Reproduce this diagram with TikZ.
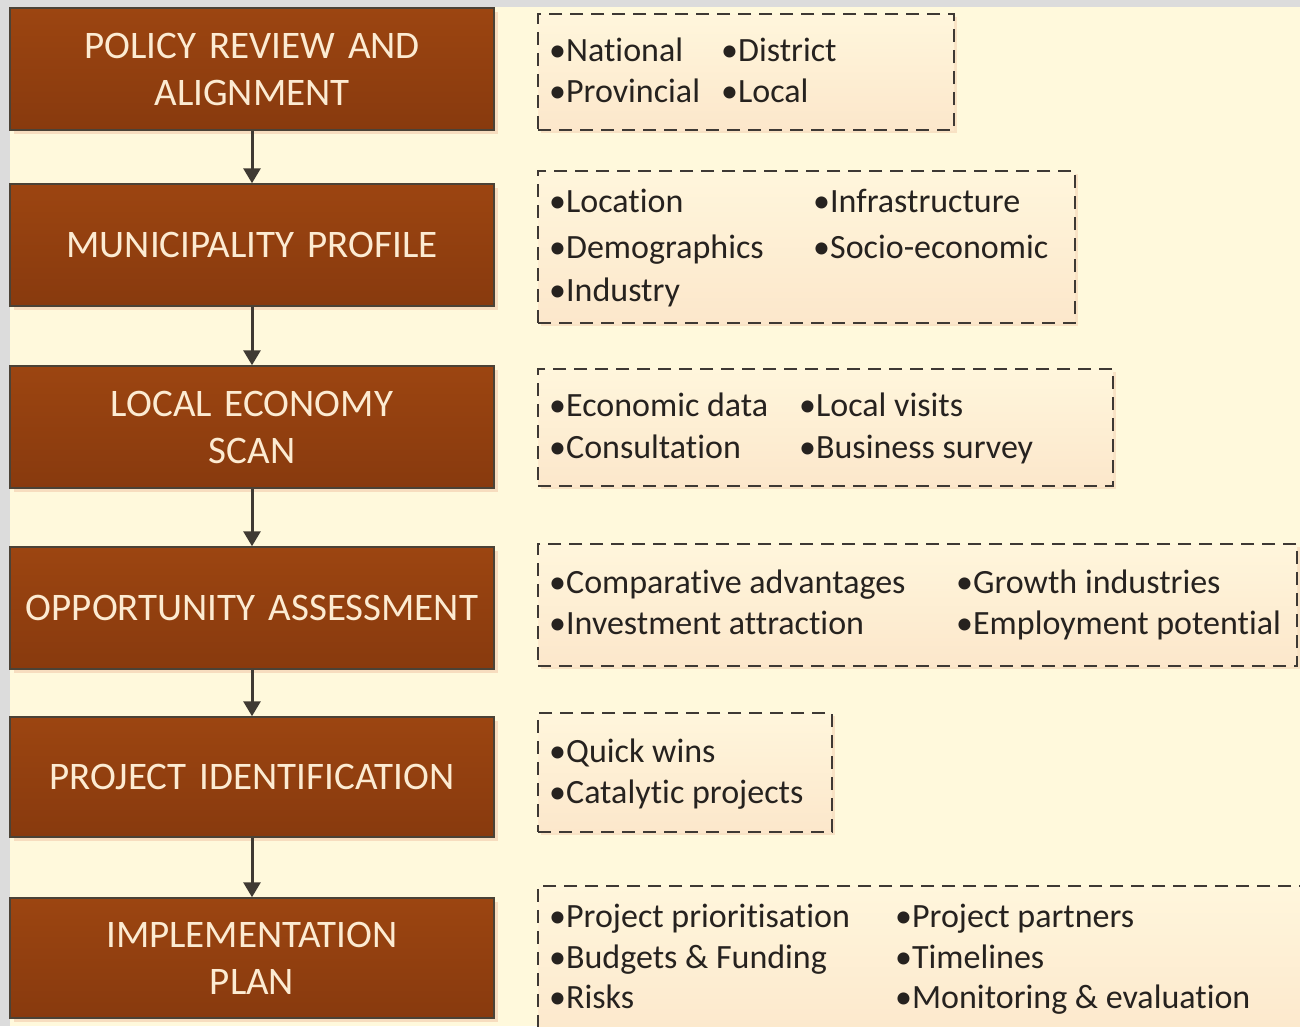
\documentclass[tikz,border=0pt]{standalone}
\usepackage{fontspec}
\setmainfont{Carlito}[Ligatures=NoCommon]
\usetikzlibrary{arrows.meta,shadows}
\definecolor{bgcream}{HTML}{FFF9DC}
\definecolor{edgegray}{HTML}{DCDCDC}
\definecolor{brownTop}{HTML}{9C4511}
\definecolor{brownBot}{HTML}{883A0E}
\definecolor{stagetext}{HTML}{FCEBD2}
\definecolor{stageedge}{HTML}{4B4236}
\definecolor{infoTop}{HTML}{FFF6DC}
\definecolor{infoBot}{HTML}{FCE7CB}
\definecolor{infoedge}{HTML}{3E3934}
\definecolor{shadowpeach}{HTML}{F7DDBF}
\definecolor{bullettext}{HTML}{26221F}
\definecolor{arrowgray}{HTML}{3F3A33}
\tikzset{
  stage/.style={draw=stageedge, line width=1.5pt, top color=brownTop, bottom color=brownBot,
    minimum width=484pt, text width=470pt, align=center, text=stagetext,
    font=\fontsize{39}{47}\selectfont, inner sep=0pt,
    drop shadow={shadow xshift=4pt, shadow yshift=-4pt, fill=shadowpeach, opacity=1}},
  infobox/.style={draw=infoedge, line width=2pt, dash pattern=on 13pt off 8pt,
    top color=infoTop, bottom color=infoBot, inner sep=0pt,
    drop shadow={shadow xshift=3pt, shadow yshift=-3pt, fill=shadowpeach, opacity=0.8}},
  item/.style={anchor=base west, inner sep=0pt, text=bullettext, font=\fontsize{34}{41}\selectfont},
  flow/.style={draw=arrowgray, line width=3pt, -{Triangle[width=17pt,length=15pt]}}
}
\begin{document}
\begin{tikzpicture}[x=1pt,y=-1pt]
\useasboundingbox (0,0) rectangle (1300,1026);
\fill[edgegray] (0,0) rectangle (1300,1026);
\fill[bgcream] (10,7) rectangle (1300,1026);

% info boxes
\node[infobox, minimum width=416pt, minimum height=116pt] (d1) at (746,72) {};
\node[infobox, minimum width=537pt, minimum height=152pt] (d2) at (806.5,247) {};
\node[infobox, minimum width=575pt, minimum height=117pt] (d3) at (825.5,427.5) {};
\node[infobox, minimum width=759pt, minimum height=122pt] (d4) at (917.5,605) {};
\node[infobox, minimum width=294pt, minimum height=119pt] (d5) at (685,772.5) {};
\node[infobox, minimum width=790pt, minimum height=160pt] (d6) at (933,966) {};

% stages
\node[stage, minimum height=122pt] (s1) at (252,69) {POLICY REVIEW AND\\ALIGNMENT};
\node[stage, minimum height=122pt] (s2) at (252,245) {MUNICIPALITY PROFILE};
\node[stage, minimum height=122pt] (s3) at (252,427) {LOCAL ECONOMY\\SCAN};
\node[stage, minimum height=122pt] (s4) at (252,608) {OPPORTUNITY ASSESSMENT};
\node[stage, minimum height=120pt] (s5) at (252,777) {PROJECT IDENTIFICATION};
\node[stage, minimum height=120pt] (s6) at (252,958) {IMPLEMENTATION\\PLAN};

\draw[flow] (s1.south) -- (s2.north);
\draw[flow] (s2.south) -- (s3.north);
\draw[flow] (s3.south) -- (s4.north);
\draw[flow] (s4.south) -- (s5.north);
\draw[flow] (s5.south) -- (s6.north);

% items
\node[item] (a1) at (549,61) {•National};
\node[item] (a2) at (549,102) {•Provincial};
\node[item] (a3) at (721,61) {•District};
\node[item] (a4) at (721,102) {•Local};

\node[item] (b1) at (549,212) {•Location};
\node[item] (b2) at (549,258) {•Demographics};
\node[item] (b3) at (549,301) {•Industry};
\node[item] (b4) at (813,212) {•Infrastructure};
\node[item] (b5) at (813,258) {•Socio-economic};

\node[item] (c1) at (549,416) {•Economic data};
\node[item] (c2) at (549,458) {•Consultation};
\node[item] (c3) at (799,416) {•Local visits};
\node[item] (c4) at (799,458) {•Business survey};

\node[item] (e1) at (549,593) {•Comparative advantages};
\node[item] (e2) at (549,634) {•Investment attraction};
\node[item] (e3) at (956,593) {•Growth industries};
\node[item] (e4) at (956,634) {•Employment potential};

\node[item] (f1) at (549,762) {•Quick wins};
\node[item] (f2) at (549,803) {•Catalytic projects};

\node[item] (g1) at (549,927) {•Project prioritisation};
\node[item] (g2) at (549,968) {•Budgets \& Funding};
\node[item] (g3) at (549,1008) {•Risks};
\node[item] (g4) at (895,927) {•Project partners};
\node[item] (g5) at (895,968) {•Timelines};
\node[item] (g6) at (895,1008) {•Monitoring \& evaluation};
\end{tikzpicture}
\end{document}
